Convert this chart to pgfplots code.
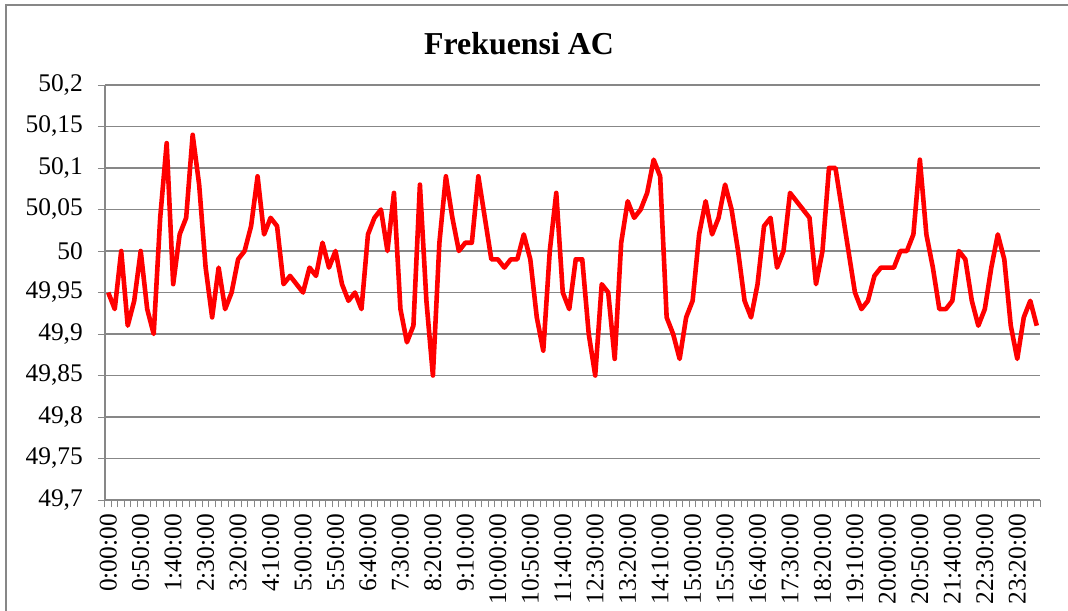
\documentclass[border=0pt]{standalone}
\usepackage{fontspec}
\setmainfont{Liberation Serif}
\usepackage{pgfplots}
\usepackage{pgfplotstable}
\pgfplotsset{compat=1.18}
\definecolor{gridgray}{HTML}{878787}
\pgfplotstableread{
x y
0 49.95
1 49.93
2 50.00
3 49.91
4 49.94
5 50.00
6 49.93
7 49.90
8 50.04
9 50.13
10 49.96
11 50.02
12 50.04
13 50.14
14 50.08
15 49.98
16 49.92
17 49.98
18 49.93
19 49.95
20 49.99
21 50.00
22 50.03
23 50.09
24 50.02
25 50.04
26 50.03
27 49.96
28 49.97
29 49.96
30 49.95
31 49.98
32 49.97
33 50.01
34 49.98
35 50.00
36 49.96
37 49.94
38 49.95
39 49.93
40 50.02
41 50.04
42 50.05
43 50.00
44 50.07
45 49.93
46 49.89
47 49.91
48 50.08
49 49.94
50 49.85
51 50.01
52 50.09
53 50.04
54 50.00
55 50.01
56 50.01
57 50.09
58 50.04
59 49.99
60 49.99
61 49.98
62 49.99
63 49.99
64 50.02
65 49.99
66 49.92
67 49.88
68 50.00
69 50.07
70 49.95
71 49.93
72 49.99
73 49.99
74 49.90
75 49.85
76 49.96
77 49.95
78 49.87
79 50.01
80 50.06
81 50.04
82 50.05
83 50.07
84 50.11
85 50.09
86 49.92
87 49.90
88 49.87
89 49.92
90 49.94
91 50.02
92 50.06
93 50.02
94 50.04
95 50.08
96 50.05
97 50.00
98 49.94
99 49.92
100 49.96
101 50.03
102 50.04
103 49.98
104 50.00
105 50.07
106 50.06
107 50.05
108 50.04
109 49.96
110 50.00
111 50.10
112 50.10
113 50.05
114 50.00
115 49.95
116 49.93
117 49.94
118 49.97
119 49.98
120 49.98
121 49.98
122 50.00
123 50.00
124 50.02
125 50.11
126 50.02
127 49.98
128 49.93
129 49.93
130 49.94
131 50.00
132 49.99
133 49.94
134 49.91
135 49.93
136 49.98
137 50.02
138 49.99
139 49.91
140 49.87
141 49.92
142 49.94
143 49.91
}\freqdata
\begin{document}
\begin{tikzpicture}
\path[use as bounding box] (-105bp,-111bp) rectangle (963bp,500bp);
\draw[gridgray, line width=1.5bp] (-99bp,-111bp) -- (-99bp,495bp) -- (963bp,495bp);
\begin{axis}[
  at={(0,0)}, anchor=south west,
  scale only axis,
  width=935bp, height=415bp,
  xmin=-0.5, xmax=143.5,
  ymin=49.7, ymax=50.2,
  axis x line*=bottom,
  axis y line*=left,
  axis line style={gridgray, line width=1.5bp},
  ytick={49.7,49.75,49.8,49.85,49.9,49.95,50,50.05,50.1,50.15,50.2},
  ymajorgrids,
  grid style={gridgray, line width=1.5bp},
  xtick={-0.5,0.5,...,143.5},
  xticklabels={},
  extra x ticks={0,5,...,140},
  extra x tick labels={0:00:00,0:50:00,1:40:00,2:30:00,3:20:00,4:10:00,5:00:00,5:50:00,6:40:00,7:30:00,8:20:00,9:10:00,10:00:00,10:50:00,11:40:00,12:30:00,13:20:00,14:10:00,15:00:00,15:50:00,16:40:00,17:30:00,18:20:00,19:10:00,20:00:00,20:50:00,21:40:00,22:30:00,23:20:00},
  extra x tick style={major tick length=0pt, grid=none},
  tick align=outside,
  major tick length=7bp,
  tick style={gridgray, line width=1bp},
  xticklabel style={rotate=90, anchor=east, font=\fontsize{25.5}{25.5}\selectfont, inner sep=0pt, xshift=-14bp},
  yticklabel style={font=\fontsize{25.5}{25.5}\selectfont, inner sep=0pt, xshift=-15bp},
  /pgf/number format/.cd, use comma, fixed, precision=2, assume math mode=true,
]
\addplot[red, line width=4.6bp, line join=round, no marks] table[x=x, y=y] {\freqdata};
\end{axis}
\node[anchor=base, font=\bfseries\fontsize{32}{32}\selectfont] at (414bp,445bp) {Frekuensi AC};
\end{tikzpicture}
\end{document}
